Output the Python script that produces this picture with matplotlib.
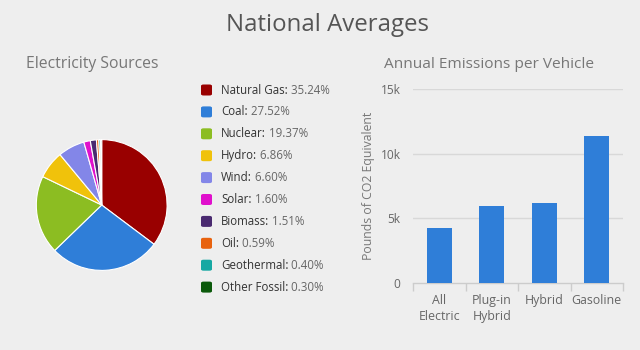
import matplotlib
matplotlib.use("Agg")
import matplotlib.pyplot as plt
from matplotlib.patches import FancyBboxPatch

# ---- data ----
sources = ["Natural Gas", "Coal", "Nuclear", "Hydro", "Wind", "Solar",
           "Biomass", "Oil", "Geothermal", "Other Fossil"]
shares = [35.24, 27.52, 19.37, 6.86, 6.60, 1.60, 1.51, 0.59, 0.40, 0.30]
source_colors = ["#990000", "#2F7ED8", "#8CBD22", "#F0C20B", "#8386E8",
                 "#E010CC", "#4A2A70", "#E8620E", "#17A8A3", "#0B5A0B"]

vehicles = ["All\nElectric", "Plug-in\nHybrid", "Hybrid", "Gasoline"]
emissions = [4270, 5980, 6200, 11370]
y_ticks = [0, 5000, 10000, 15000]
y_ticklabels = ["0", "5k", "10k", "15k"]

BG = "#EEEEEE"
FONT = "Open Sans"
W, H = 640, 350

fig = plt.figure(figsize=(6.4, 3.5), dpi=100, facecolor=BG)

def fx(px):
    return px / W

def fy(py):
    return 1 - py / H

# Titles
fig.text(fx(327), fy(25), "National Averages", ha="center", va="center",
         fontsize=17.3, color="#555555", family=FONT)
fig.text(fx(26), fy(64), "Electricity Sources", ha="left", va="center",
         fontsize=11.3, color="#777777", family=FONT)
fig.text(fx(489.5), fy(64), "Annual Emissions per Vehicle", ha="center", va="center",
         fontsize=11.1, color="#777777", family=FONT)

# ---- pie ----
cx, cy, r = 101.7, 205, 66.7
pax = fig.add_axes([fx(cx - r), fy(cy + r), 2 * r / W, 2 * r / H])
pax.set_facecolor(BG)
pax.pie(shares, colors=source_colors, startangle=90, counterclock=False,
        radius=1.0, wedgeprops=dict(edgecolor="white", linewidth=0.8))
pax.set_xlim(-1.02, 1.02)
pax.set_ylim(-1.02, 1.02)
pax.set_aspect("equal")
pax.axis("off")

# ---- legend ----
lx_box, lx_text = 201, 221
y0, dy = 90, 21.9
for i, (name, val, col) in enumerate(zip(sources, shares, source_colors)):
    yc = y0 + i * dy
    box = FancyBboxPatch((fx(lx_box), fy(yc + 5.5)), fx(11), 11 / H,
                         boxstyle="round,pad=0,rounding_size=0.004",
                         transform=fig.transFigure, facecolor=col,
                         edgecolor="none")
    fig.add_artist(box)
    t = fig.text(fx(lx_text), fy(yc), name + ":", ha="left", va="center",
                 fontsize=8.3, color="#333333", family=FONT)
    fig.add_artist(matplotlib.text.Annotation(
        f" {val:.2f}%", xy=(1, 0.5), xycoords=t, ha="left", va="center",
        fontsize=8.3, color="#666666", family=FONT, annotation_clip=False))

# ---- bars ----
left, right, base, top = 413, 623, 282.7, 89.3
bax = fig.add_axes([fx(left), fy(base), (right - left) / W, (base - top) / H])
bax.set_facecolor(BG)
xs = list(range(len(vehicles)))
bax.bar(xs, emissions, width=0.47, color="#2F7ED8", zorder=3)
bax.set_xlim(-0.5, len(vehicles) - 0.5)
bax.set_ylim(0, 15000)
bax.set_yticks(y_ticks)
bax.set_yticklabels(y_ticklabels, family=FONT, fontsize=8.6, color="#666666")
bax.tick_params(axis="y", length=0, pad=9)
for yv in y_ticks[1:]:
    bax.axhline(yv, color="#D8D8D8", linewidth=1, zorder=1)
for s in ["top", "right", "left"]:
    bax.spines[s].set_visible(False)
bax.spines["bottom"].set_color("#CCCCCC")
bax.spines["bottom"].set_linewidth(1)
bax.set_xticks([x - 0.5 for x in xs] + [len(vehicles) - 0.5])
bax.set_xticklabels([])
bax.tick_params(axis="x", length=6, color="#CCCCCC", width=1)
bax.set_xticks(xs, minor=True)
bax.set_xticklabels(vehicles, minor=True, family=FONT, fontsize=8.9,
                    color="#666666", linespacing=1.3)
bax.tick_params(axis="x", which="minor", length=0, pad=8)
bax.set_ylabel("Pounds of CO2 Equivalent", family=FONT, fontsize=8.8,
               color="#777777", labelpad=4)

fig.savefig("out.png", dpi=100, facecolor=BG)
